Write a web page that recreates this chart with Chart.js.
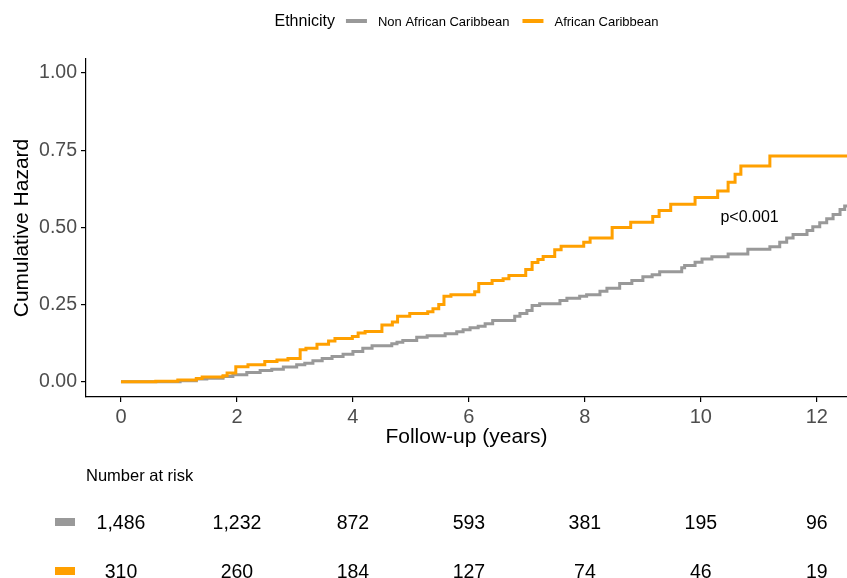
<!DOCTYPE html>
<html>
<head>
<meta charset="utf-8">
<title>Cumulative hazard by ethnicity</title>
<script src="https://cdn.jsdelivr.net/npm/chart.js@4.4.1/dist/chart.umd.min.js"></script>
<style>
  body { margin: 0; background: #fff; }
  canvas { display: block; }
</style>
</head>
<body>
<canvas id="kmChart" width="847" height="578"></canvas>
<script>
// Step curves (time in years, cumulative hazard)
const nonAcTimes = [0, 1.02, 1.3, 1.48, 1.76, 1.93, 2.17, 2.4, 2.6, 2.8, 3.03, 3.17, 3.31, 3.47, 3.64, 3.83,
    4.0, 4.17, 4.33, 4.67, 4.76, 4.86, 5.1, 5.28, 5.59, 5.79, 5.9, 6.02, 6.16, 6.28, 6.41, 6.79, 6.88,
    7.0, 7.09, 7.22, 7.57, 7.69, 7.91, 8.03, 8.26, 8.38, 8.6, 8.81, 9.0, 9.16, 9.29, 9.67, 9.72, 9.9,
    10.02, 10.19, 10.47, 10.81, 11.19, 11.36, 11.48, 11.59, 11.83, 11.93, 12.05, 12.17, 12.28, 12.4, 12.48, 12.52];
const nonAcHazard = [0, 0.004, 0.009, 0.012, 0.017, 0.023, 0.03, 0.037, 0.041, 0.048, 0.055, 0.06, 0.068, 0.076, 0.082, 0.089,
    0.098, 0.109, 0.117, 0.123, 0.128, 0.134, 0.144, 0.149, 0.156, 0.162, 0.169, 0.175, 0.18, 0.188, 0.199, 0.212, 0.221,
    0.231, 0.247, 0.253, 0.263, 0.271, 0.277, 0.282, 0.293, 0.303, 0.318, 0.328, 0.34, 0.347, 0.356, 0.369, 0.377, 0.387,
    0.398, 0.405, 0.414, 0.429, 0.437, 0.452, 0.466, 0.477, 0.49, 0.502, 0.515, 0.528, 0.542, 0.558, 0.569, 0.569];

const acTimes = [0, 0.6, 0.98, 1.3, 1.4, 1.76, 1.83, 1.98, 2.19, 2.48, 2.69, 2.88, 3.09, 3.19, 3.38, 3.58, 3.69,
    3.99, 4.09, 4.21, 4.5, 4.68, 4.77, 4.98, 5.29, 5.38, 5.48, 5.57, 5.69, 6.1, 6.17, 6.4, 6.59, 6.69, 6.98,
    7.09, 7.19, 7.28, 7.48, 7.59, 7.98, 8.09, 8.47, 8.79, 9.17, 9.28, 9.48, 9.9, 10.29, 10.47, 10.59, 10.69, 11.19, 12.52];
const acHazard = [0, 0.002, 0.006, 0.011, 0.016, 0.02, 0.029, 0.049, 0.055, 0.066, 0.071, 0.076, 0.104, 0.109, 0.122, 0.132, 0.14,
    0.147, 0.158, 0.163, 0.184, 0.194, 0.212, 0.221, 0.227, 0.237, 0.25, 0.277, 0.282, 0.292, 0.318, 0.328, 0.334, 0.344, 0.364,
    0.386, 0.396, 0.406, 0.428, 0.439, 0.452, 0.466, 0.5, 0.517, 0.535, 0.555, 0.575, 0.597, 0.618, 0.646, 0.672, 0.699, 0.731, 0.731];

// Axis ticks
const xTicks = [0, 2, 4, 6, 8, 10, 12];
const yTicks = [0, 0.25, 0.5, 0.75, 1.0];

// Number at risk table
const riskTimes = [0, 2, 4, 6, 8, 10, 12];
const nonAcAtRisk = [1486, 1232, 872, 593, 381, 195, 96];
const acAtRisk = [310, 260, 184, 127, 74, 46, 19];

const seriesNames = ['Non African Caribbean', 'African Caribbean'];
const legendTitle = 'Ethnicity';
const pValueText = 'p<0.001';

const GREY = '#999999';
const ORANGE = '#FFA000';
const FONT = '"Liberation Sans", Arial, sans-serif';

function toPoints(times, values) {
    return times.map((t, i) => ({ x: t, y: values[i] }));
}

// Draws the legend, p-value and risk table using the chart's scales
const annotations = {
    id: 'annotations',
    afterDraw(chart) {
        const ctx = chart.ctx;
        const xs = chart.scales.x;
        const ys = chart.scales.y;
        const area = chart.chartArea;
        ctx.save();

        // top legend
        ctx.textBaseline = 'middle';
        ctx.textAlign = 'left';
        const legY = 22;
        ctx.font = '16px ' + FONT;
        const titleW = ctx.measureText(legendTitle).width;
        ctx.font = '13px ' + FONT;
        const itemW = chart.data.datasets.map(ds => ctx.measureText(ds.label).width);
        const total = titleW + 11 + itemW.reduce((a, w) => a + 21 + 11 + w, 0) + 13;
        let lx = (area.left + area.right) / 2 - total / 2;
        ctx.fillStyle = '#000';
        ctx.font = '16px ' + FONT;
        ctx.fillText(legendTitle, lx, legY);
        lx += titleW + 11;
        ctx.font = '13px ' + FONT;
        chart.data.datasets.forEach((ds, i) => {
            ctx.strokeStyle = ds.borderColor;
            ctx.lineWidth = 4;
            ctx.beginPath();
            ctx.moveTo(lx, legY - 1);
            ctx.lineTo(lx + 21, legY - 1);
            ctx.stroke();
            lx += 21 + 11;
            ctx.fillStyle = '#000';
            ctx.fillText(ds.label, lx, legY);
            lx += itemW[i] + 13;
        });

        // p-value
        ctx.font = '16px ' + FONT;
        ctx.textAlign = 'center';
        ctx.fillText(pValueText, xs.getPixelForValue(10.84), ys.getPixelForValue(0.533));

        // number at risk table
        ctx.textAlign = 'left';
        ctx.font = '16.5px ' + FONT;
        ctx.fillText('Number at risk', area.left, 476);
        const rows = [
            { y: 524, color: GREY, values: nonAcAtRisk },
            { y: 573, color: ORANGE, values: acAtRisk }
        ];
        ctx.font = '19.5px ' + FONT;
        ctx.textAlign = 'center';
        rows.forEach(row => {
            ctx.fillStyle = row.color;
            ctx.fillRect(55, row.y - 6, 20, 8);
            ctx.fillStyle = '#000';
            row.values.forEach((v, i) => {
                ctx.fillText(v.toLocaleString('en-US'), xs.getPixelForValue(riskTimes[i]), row.y);
            });
        });
        ctx.restore();
    }
};

const ctx = document.getElementById('kmChart');
new Chart(ctx, {
    type: 'line',
    data: {
        datasets: [{
            label: seriesNames[0],
            data: toPoints(nonAcTimes, nonAcHazard),
            borderColor: GREY,
            borderWidth: 3,
            stepped: 'before',
            pointRadius: 0,
            fill: false,
            order: 2
        }, {
            label: seriesNames[1],
            data: toPoints(acTimes, acHazard),
            borderColor: ORANGE,
            borderWidth: 3,
            stepped: 'before',
            pointRadius: 0,
            fill: false,
            order: 1
        }]
    },
    options: {
        responsive: false,
        animation: false,
        devicePixelRatio: 1,
        layout: {
            padding: { top: 59, right: 0, bottom: 128, left: 0 }
        },
        plugins: {
            legend: { display: false },
            tooltip: { enabled: false }
        },
        scales: {
            x: {
                type: 'linear',
                min: -0.603,
                max: 12.52,
                afterBuildTicks: scale => { scale.ticks = xTicks.map(v => ({ value: v })); },
                afterFit: scale => { scale.height = 53; },
                border: { color: '#000', width: 1.2 },
                grid: { drawOnChartArea: false, color: '#000', tickLength: 5, lineWidth: 1.2 },
                ticks: {
                    color: '#4d4d4d',
                    font: { family: FONT, size: 20 },
                    padding: 3,
                    maxRotation: 0
                },
                title: {
                    display: true,
                    text: 'Follow-up (years)',
                    color: '#000',
                    font: { family: FONT, size: 21 },
                    padding: { top: 0, bottom: 0 }
                }
            },
            y: {
                type: 'linear',
                min: -0.049,
                max: 1.045,
                afterBuildTicks: scale => { scale.ticks = yTicks.map(v => ({ value: v })); },
                afterFit: scale => { scale.width = 86; },
                border: { color: '#000', width: 1.2 },
                grid: { drawOnChartArea: false, color: '#000', tickLength: 5, lineWidth: 1.2 },
                ticks: {
                    color: '#4d4d4d',
                    font: { family: FONT, size: 19.5 },
                    padding: 4,
                    callback: value => value.toFixed(2)
                },
                title: {
                    display: true,
                    text: 'Cumulative Hazard',
                    color: '#000',
                    font: { family: FONT, size: 21 },
                    padding: { top: 10, bottom: 0 }
                }
            }
        }
    },
    plugins: [annotations]
});
</script>
</body>
</html>
